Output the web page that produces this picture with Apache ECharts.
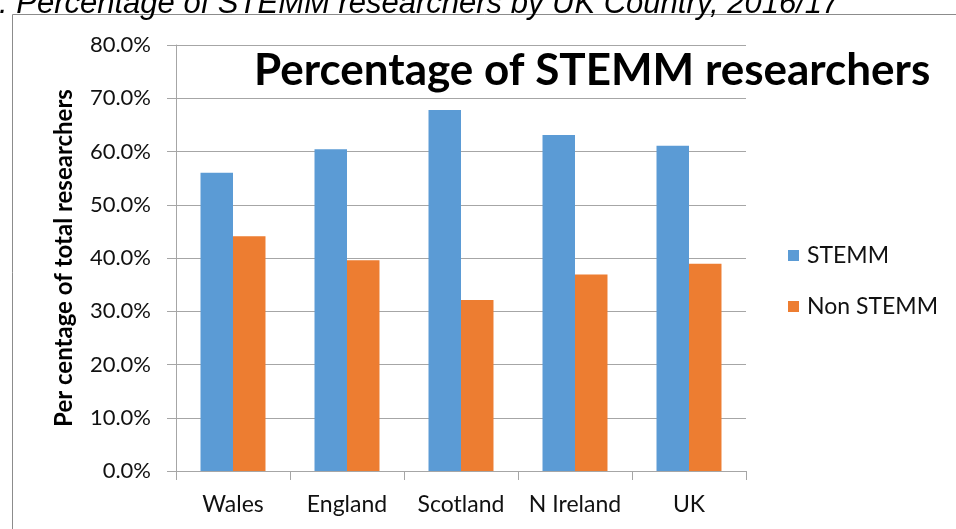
<!DOCTYPE html>
<html>
<head>
<meta charset="utf-8">
<script src="https://cdn.jsdelivr.net/npm/echarts@6/dist/echarts.min.js"></script>
<style>html,body{margin:0;padding:0;background:#fff;}#chart{width:956px;height:529px;}</style>
</head>
<body>
<div id="chart"></div>
<script>
const categories = ['Wales', 'England', 'Scotland', 'N Ireland', 'UK'];
const stemmValues = [56.0, 60.4, 67.8, 63.1, 61.1];
const nonStemmValues = [44.1, 39.6, 32.1, 36.9, 38.9];
const seriesNames = ['STEMM', 'Non STEMM'];
const yTicks = { min: 0, max: 80, interval: 10 };
const chartTitle = 'Percentage of STEMM researchers';
const captionText = '. Percentage of STEMM researchers by UK Country, 2016/17';
const yAxisName = 'Per centage of total researchers';

const chart = echarts.init(document.getElementById('chart'));
const font = 'Lato';
const axisColor = '#a6a6a6';
chart.setOption({
  animation: false,
  backgroundColor: '#fff',
  title: {
    text: chartTitle,
    left: 249,
    top: 44,
    textStyle: { fontFamily: font, fontWeight: 'bold', fontSize: 44, color: '#000' }
  },
  graphic: [
    { type: 'rect', shape: { x: 12.5, y: 14.5, width: 1000, height: 600 }, style: { fill: 'none', stroke: '#8c8c8c', lineWidth: 1 }, silent: true },
    { type: 'text', x: -1, y: 20, style: { text: captionText, font: 'italic 31px "Liberation Sans"', fill: '#000', verticalAlign: 'bottom', align: 'left' }, silent: true }
  ],
  legend: {
    orient: 'vertical',
    left: 783,
    top: 239,
    itemWidth: 11,
    itemHeight: 11,
    itemGap: 28,
    icon: 'rect',
    data: seriesNames,
    textStyle: { fontFamily: font, fontSize: 23, color: '#111', padding: [0, 0, 0, 3] }
  },
  grid: { left: 176, right: 210, top: 45, bottom: 58, containLabel: false },
  xAxis: {
    type: 'category',
    data: categories,
    axisLine: { lineStyle: { color: axisColor } },
    axisTick: { show: true, length: 9, interval: 0, lineStyle: { color: axisColor } },
    axisLabel: { fontFamily: font, fontSize: 23, color: '#111', margin: 22, interval: 0, hideOverlap: false }
  },
  yAxis: {
    type: 'value',
    min: yTicks.min,
    max: yTicks.max,
    interval: yTicks.interval,
    name: yAxisName,
    nameLocation: 'middle',
    nameGap: 100,
    nameRotate: 90,
    nameTextStyle: { fontFamily: font, fontWeight: 'bold', fontSize: 24, color: '#000' },
    axisLine: { show: true, lineStyle: { color: axisColor } },
    axisTick: { show: true, length: 9, lineStyle: { color: axisColor } },
    splitLine: { lineStyle: { color: axisColor } },
    axisLabel: { fontFamily: font, fontSize: 22, color: '#111', margin: 25, formatter: v => v.toFixed(1) + '%' }
  },
  series: [
    { name: seriesNames[0], type: 'bar', data: stemmValues, itemStyle: { color: '#5B9BD5' }, barGap: '0%', barCategoryGap: '43%' },
    { name: seriesNames[1], type: 'bar', data: nonStemmValues, itemStyle: { color: '#ED7D31' }, barGap: '0%', barCategoryGap: '43%' }
  ]
});
</script>
</body>
</html>
